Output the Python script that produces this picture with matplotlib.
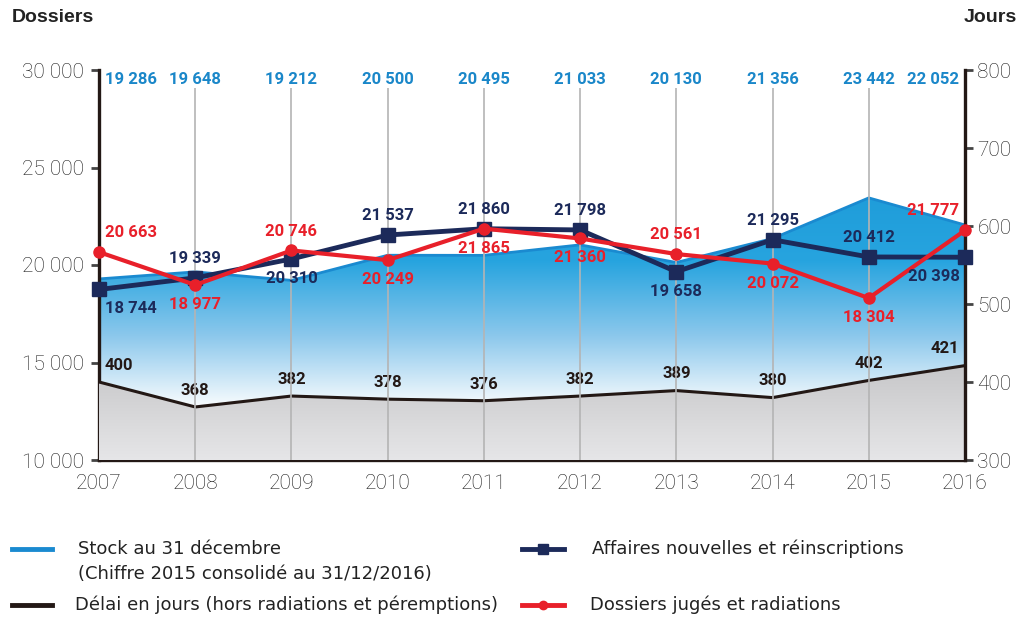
import matplotlib.pyplot as plt
import numpy as np
from matplotlib.colors import LinearSegmentedColormap
from matplotlib.lines import Line2D

years = [2007, 2008, 2009, 2010, 2011, 2012, 2013, 2014, 2015, 2016]
stock = [19286, 19648, 19212, 20500, 20495, 21033, 20130, 21356, 23442, 22052]
affaires = [18744, 19339, 20310, 21537, 21860, 21798, 19658, 21295, 20412, 20398]
juges = [20663, 18977, 20746, 20249, 21865, 21360, 20561, 20072, 18304, 21777]
delai = [400, 368, 382, 378, 376, 382, 389, 380, 402, 421]

# label placement: +1 above, -1 below
aff_pos = [-1, 1, -1, 1, 1, 1, -1, 1, 1, -1]
jug_pos = [1, -1, 1, -1, -1, -1, 1, -1, -1, 1]

BLUE = '#1a8ad0'
BLUE_TXT = '#1a87c9'
NAVY = '#1c2a5a'
RED = '#e8202a'
DARK = '#231815'

def fmt(v):
    return f"{v:,.0f}".replace(",", " ")

bold_font = ['Roboto', 'DejaVu Sans']
light = ['Roboto', 'DejaVu Sans']
leg_font = ['DejaVu Sans']

fig = plt.figure(figsize=(10.19, 6.2), dpi=100)
rect = [99/1019, 1-460/620, (965-99)/1019, (460-70)/620]
ax = fig.add_axes(rect)
ax2 = ax.twinx()
ax3 = ax.twinx()

ax.set_xlim(2007, 2016)
ax.set_ylim(10000, 30000)
ax2.set_ylim(300, 800)
ax3.set_ylim(10000, 30000)

# stock area with gradient
poly = ax.fill_between(years, stock, 10000, color='none', lw=0)
cmap = LinearSegmentedColormap.from_list('b', ['#ffffff', '#8cc8ec', '#27a4df', '#1e9cd9'])
grad = np.linspace(0, 1, 256).reshape(-1, 1)
im = ax.imshow(grad, cmap=cmap, origin='lower', aspect='auto',
               extent=[2007, 2016, 12500, 24000], zorder=1)
im.set_clip_path(poly.get_paths()[0], transform=ax.transData)
ax.plot(years, stock, color=BLUE, lw=2, zorder=2)

# délai area with grey gradient
poly2 = ax2.fill_between(years, delai, 300, color='none', lw=0)
cmap2 = LinearSegmentedColormap.from_list('g', ['#e6e6e8', '#c6c6c8'])
im2 = ax2.imshow(grad, cmap=cmap2, origin='lower', aspect='auto',
                 extent=[2007, 2016, 300, 425], zorder=1)
im2.set_clip_path(poly2.get_paths()[0], transform=ax2.transData)
ax2.plot(years, delai, color=DARK, lw=2.2, zorder=3)

# vertical grid
ax3.vlines(years[1:-1], 10000, 29100, color='#b4b4b4', lw=1.2, zorder=1)

ax3.plot(years, affaires, color=NAVY, lw=3.5, marker='s', ms=10, zorder=4, clip_on=False)
ax3.plot(years, juges, color=RED, lw=3, marker='o', ms=8, zorder=5, clip_on=False)

def xoff(i):
    if i == 0:
        return 4, 'left'
    if i == len(years) - 1:
        return -4, 'right'
    return 0, 'center'

lab_kw = dict(textcoords='offset points', va='center', fontsize=12,
              fontweight='bold', family=bold_font, zorder=6)

for i, y in enumerate(years):
    dx, ha = xoff(i)
    ax3.annotate(fmt(stock[i]), (y, 29500), xytext=(dx, 0), ha=ha, color=BLUE_TXT, **lab_kw)
    ax3.annotate(fmt(affaires[i]), (y, affaires[i]), xytext=(dx, 14 * aff_pos[i]),
                 ha=ha, color=NAVY, **lab_kw)
    ax3.annotate(fmt(juges[i]), (y, juges[i]), xytext=(dx, 14 * jug_pos[i]),
                 ha=ha, color=RED, **lab_kw)
    ax2.annotate(fmt(delai[i]), (y, delai[i]), xytext=(dx, 12), ha=ha, color=DARK, **lab_kw)

# axes styling
for a in (ax, ax2, ax3):
    for s in a.spines.values():
        s.set_visible(False)
ax.spines['left'].set_visible(True)
ax.spines['bottom'].set_visible(True)
ax2.spines['right'].set_visible(True)
for s in (ax.spines['left'], ax.spines['bottom'], ax2.spines['right']):
    s.set_color(DARK)
    s.set_linewidth(2.4)
    s.set_zorder(10)

ax.set_yticks([10000, 15000, 20000, 25000, 30000])
ax.set_yticklabels([fmt(v) for v in [10000, 15000, 20000, 25000, 30000]])
ax2.set_yticks([300, 400, 500, 600, 700, 800])
ax.set_xticks(years)
ax.tick_params(axis='y', length=6, width=2, color='#444444', labelsize=15, labelcolor='#1a1a1a', pad=5)
ax2.tick_params(axis='y', length=6, width=2, color='#444444', labelsize=15, labelcolor='#1a1a1a', pad=3)
ax.tick_params(axis='x', length=0, labelsize=15, labelcolor='#1a1a1a', pad=10)
for lbl in ax.get_yticklabels() + ax.get_xticklabels() + ax2.get_yticklabels():
    lbl.set_family(light)
    lbl.set_fontweight('light')
ax3.set_yticks([])
ax3.tick_params(right=False, labelright=False)

fig.text(12/1019, 1-17/620, 'Dossiers', fontsize=14, fontweight='bold', color='#222222',
         va='center', ha='left', family=['Liberation Sans', 'DejaVu Sans'])
fig.text(1017/1019, 1-17/620, 'Jours', fontsize=14, fontweight='bold', color='#222222',
         va='center', ha='right', family=['Liberation Sans', 'DejaVu Sans'])

# legend drawn by hand
def handle(yp, color):
    fig.add_artist(Line2D([12/1019, 52/1019], [1-yp/620, 1-yp/620], color=color, lw=3.5,
                          transform=fig.transFigure))

leg_kw = dict(fontsize=13, color='#222222', va='center', ha='left', family=leg_font)
handle(549, BLUE)
fig.text(78/1019, 1-549/620, 'Stock au 31 décembre', **leg_kw)
fig.text(78/1019, 1-574/620, '(Chiffre 2015 consolidé au 31/12/2016)', **leg_kw)
handle(605, DARK)
fig.text(75/1019, 1-605/620, 'Délai en jours (hors radiations et péremptions)', **leg_kw)
fig.add_artist(Line2D([522/1019, 564/1019], [1-549/620, 1-549/620], color=NAVY, lw=3.5,
                      transform=fig.transFigure))
fig.add_artist(Line2D([543/1019], [1-549/620], color=NAVY, marker='s', ms=7,
                      transform=fig.transFigure))
fig.text(592/1019, 1-549/620, 'Affaires nouvelles et réinscriptions', **leg_kw)
fig.add_artist(Line2D([522/1019, 564/1019], [1-605/620, 1-605/620], color=RED, lw=3.5,
                      transform=fig.transFigure))
fig.add_artist(Line2D([543/1019], [1-605/620], color=RED, marker='o', ms=6,
                      transform=fig.transFigure))
fig.text(590/1019, 1-605/620, 'Dossiers jugés et radiations', **leg_kw)

fig.savefig('out.png', dpi=100)
